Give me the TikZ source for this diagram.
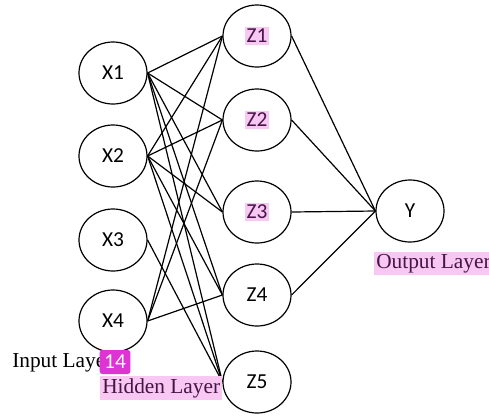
\documentclass[tikz,border=0pt]{standalone}
\usepackage{fontspec}
\setmainfont{Liberation Serif}
\newfontfamily\nodefont{Carlito}
\usetikzlibrary{shapes,positioning}
\definecolor{hlpink}{RGB}{248,200,242}
\definecolor{hltext}{RGB}{70,20,70}
\definecolor{badgecol}{RGB}{222,52,212}
\newcommand{\hlbox}[1]{{\setlength{\fboxsep}{1.5pt}\colorbox{hlpink}{\textcolor{hltext}{#1}}}}

\begin{document}
\begin{tikzpicture}[x=0.75pt,y=-0.75pt,
    neuron/.style={draw, line width=0.9pt, ellipse, minimum width=51pt, minimum height=46.5pt,
        inner sep=0pt, font=\nodefont\fontsize{16}{19}\selectfont},
    layerlabel/.style={anchor=base west, inner sep=1.5pt, font=\fontsize{16}{19}\selectfont},
    link/.style={line width=0.9pt}]
    \useasboundingbox (0,0) rectangle (489,415);

    % Input layer
    \foreach \i/\y in {1/73,2/156,3/240,4/321}
        \node[neuron] (X\i) at (113,\y) {X\i};

    % Hidden layer
    \node[neuron] (Z1) at (257,36) {\hlbox{Z1}};
    \node[neuron] (Z2) at (257,120) {\hlbox{Z2}};
    \node[neuron] (Z3) at (257,212) {\hlbox{Z3}};
    \node[neuron] (Z4) at (257,295) {Z4};
    \node[neuron] (Z5) at (257,382) {Z5};

    % Output layer
    \node[neuron] (Y) at (410,211) {Y};

    % Connections
    \foreach \s/\t in {1/1,1/2,1/3,1/4,1/5,2/1,2/2,2/3,2/4,2/5,3/5,4/1,4/2,4/4}
        \draw[link] (X\s.east) -- (Z\t.west);
    \foreach \t in {1,...,4}
        \draw[link] (Z\t.east) -- (Y.west);

    % Layer labels
    \node[layerlabel] (inlab) at (10,367) {Input Layer};
    \node[layerlabel, fill=hlpink, text=hltext] (hidlab) at (100,393) {Hidden Layer};
    \node[layerlabel, fill=hlpink, text=hltext] (outlab) at (374,268) {Output Layer};
    \node[fill=badgecol, text=white, rounded corners=2pt, minimum width=23pt, minimum height=18pt,
        inner sep=0pt, font=\nodefont\fontsize{16}{19}\selectfont] (badge) at (115,362) {14};
\end{tikzpicture}
\end{document}
